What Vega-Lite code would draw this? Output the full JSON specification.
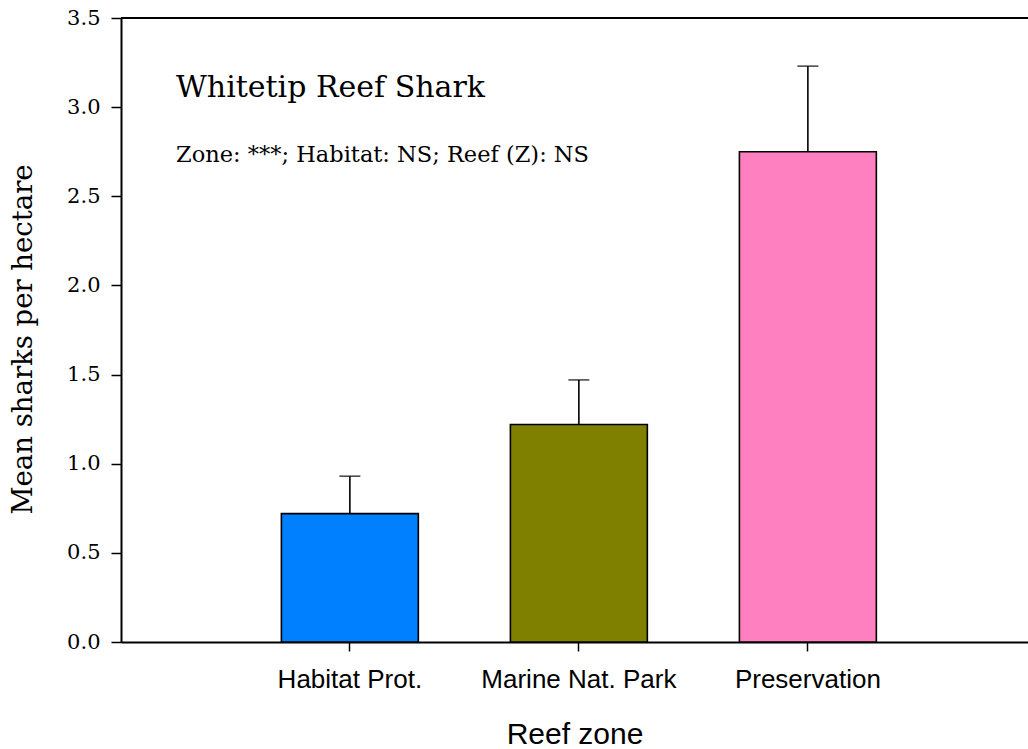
{
  "$schema": "https://vega.github.io/schema/vega-lite/v6.json",
  "width": 907,
  "height": 624,
  "autosize": {"type": "none"},
  "padding": {"left": 121, "top": 18, "right": 0, "bottom": 107},
  "background": "white",
  "config": {
    "view": {"stroke": null},
    "axis": {"grid": false, "domainColor": "black", "tickColor": "black", "labelColor": "black", "titleColor": "black"}
  },
  "title": {
    "text": "Whitetip Reef Shark",
    "subtitle": "Zone: ***; Habitat: NS; Reef (Z): NS",
    "anchor": "start",
    "frame": "group",
    "font": "DejaVu Serif",
    "fontSize": 30,
    "fontWeight": "normal",
    "color": "black",
    "subtitleFont": "DejaVu Serif",
    "subtitleFontSize": 22.5,
    "subtitleColor": "black",
    "subtitlePadding": 41,
    "dx": 55,
    "dy": 163
  },
  "data": {
    "values": [
      {"zone": "Habitat Prot.", "mean": 0.72, "upper": 0.93},
      {"zone": "Marine Nat. Park", "mean": 1.22, "upper": 1.47},
      {"zone": "Preservation", "mean": 2.75, "upper": 3.23}
    ]
  },
  "layer": [
    {
      "mark": {"type": "bar", "stroke": "black", "strokeWidth": 1.6},
      "encoding": {
        "x": {
          "field": "zone", "type": "nominal", "sort": null,
          "scale": {"paddingInner": 0.402, "paddingOuter": 0.6813, "align": 0.514},
          "axis": {
            "title": "Reef zone", "labelAngle": 0,
            "labelFont": "Liberation Sans", "labelFontSize": 26, "labelLimit": 400,
            "tickSize": 9, "tickWidth": 1.5, "labelPadding": 15,
            "titleFont": "Liberation Sans", "titleFontSize": 30, "titleFontWeight": "normal",
            "titlePadding": 27, "domainWidth": 2
          }
        },
        "y": {
          "field": "mean", "type": "quantitative",
          "scale": {"domain": [0, 3.5], "nice": false, "zero": true},
          "axis": {
            "title": "Mean sharks per hectare",
            "values": [0, 0.5, 1, 1.5, 2, 2.5, 3, 3.5], "format": ".1f",
            "labelFont": "DejaVu Serif", "labelFontSize": 21,
            "tickSize": 10, "tickWidth": 1.5, "labelPadding": 11,
            "titleFont": "DejaVu Serif", "titleFontSize": 27.5, "titleFontWeight": "normal",
            "titlePadding": 29, "titleY": 321, "domainWidth": 2
          }
        },
        "color": {
          "field": "zone", "type": "nominal",
          "scale": {"domain": ["Habitat Prot.", "Marine Nat. Park", "Preservation"], "range": ["#0080ff", "#808000", "#ff80c0"]},
          "legend": null
        }
      }
    },
    {
      "mark": {"type": "rule", "stroke": "black", "strokeWidth": 1.6},
      "encoding": {
        "x": {"field": "zone", "type": "nominal", "sort": null},
        "y": {"field": "mean", "type": "quantitative"},
        "y2": {"field": "upper"}
      }
    },
    {
      "mark": {"type": "tick", "color": "black", "size": 21, "thickness": 1.6, "orient": "horizontal"},
      "encoding": {
        "x": {"field": "zone", "type": "nominal", "sort": null},
        "y": {"field": "upper", "type": "quantitative"}
      }
    },
    {
      "mark": {"type": "rule", "stroke": "black", "strokeWidth": 2},
      "encoding": {
        "y": {"datum": 3.5, "type": "quantitative"}
      }
    }
  ]
}
